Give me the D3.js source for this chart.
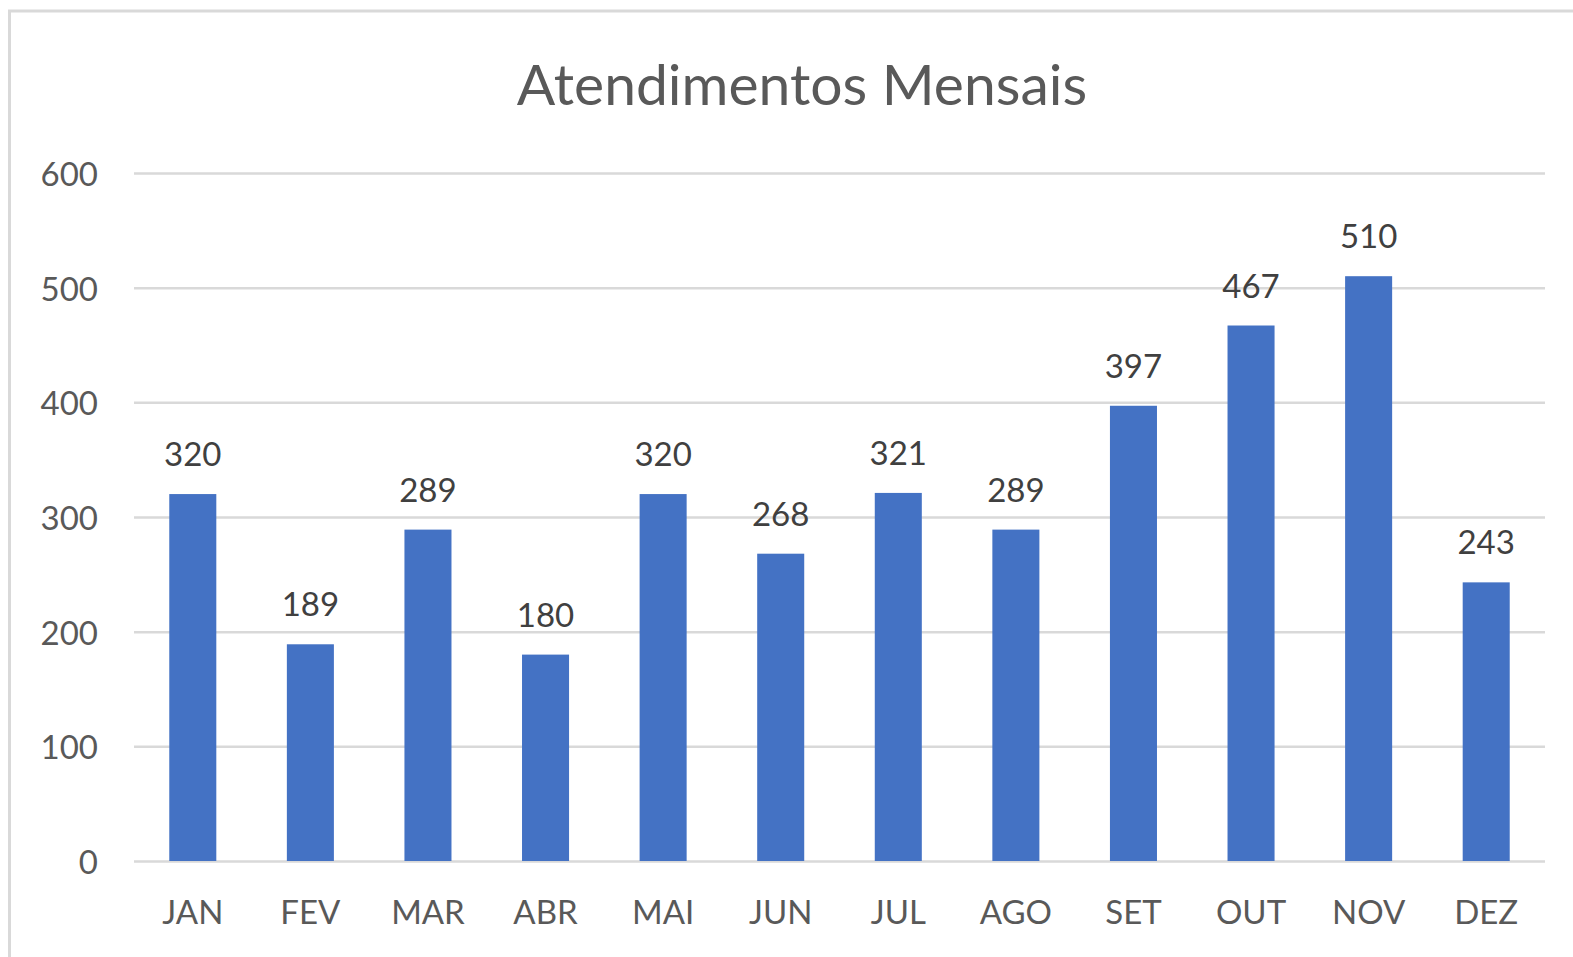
<!DOCTYPE html>
<html>
<head>
<meta charset="utf-8">
<script src="https://cdn.jsdelivr.net/npm/d3@7"></script>
<style>
  body { margin: 0; background: #fff; }
  svg { display: block; font-family: Lato, "Noto Sans", sans-serif; }
</style>
</head>
<body>
<svg id="chart" width="1573" height="957"></svg>
<script>
const months = ["JAN", "FEV", "MAR", "ABR", "MAI", "JUN", "JUL", "AGO", "SET", "OUT", "NOV", "DEZ"];
const atendimentos = [320, 189, 289, 180, 320, 268, 321, 289, 397, 467, 510, 243];
const yTicks = [0, 100, 200, 300, 400, 500, 600];
const title = "Atendimentos Mensais";

const svg = d3.select("#chart");

/* chart frame */
svg.append("rect")
    .attr("x", 9.5).attr("y", 11)
    .attr("width", 1700).attr("height", 1100)
    .attr("fill", "none")
    .attr("stroke", "#d9d9d9")
    .attr("stroke-width", 3);

/* scales */
let xScale = d3.scaleBand()
    .domain(months)
    .range([134, 1545])
    .paddingInner(0.6)
    .paddingOuter(0.3);

let yScale = d3.scaleLinear()
    .domain([0, 600])
    .range([861, 173]);

/* gridlines */
let yAxis = svg.append("g")
    .attr("transform", "translate(134,0)")
    .call(d3.axisLeft(yScale).tickValues(yTicks).tickSize(-(1545 - 134)).tickPadding(36));
yAxis.select(".domain").remove();
yAxis.selectAll(".tick line")
    .attr("stroke", "#d9d9d9")
    .attr("stroke-width", 2.5);
yAxis.selectAll(".tick text")
    .attr("fill", "#595959")
    .attr("y", 2)
    .style("font-size", "33px")
    .style("font-family", "Lato, sans-serif");

/* x axis labels */
let xAxis = svg.append("g")
    .attr("transform", "translate(0,861)")
    .call(d3.axisBottom(xScale).tickSize(0).tickPadding(40));
xAxis.select(".domain").remove();
xAxis.selectAll(".tick text")
    .attr("fill", "#595959")
    .style("font-size", "33px")
    .style("font-family", "Lato, sans-serif");

/* bars */
svg.append("g").selectAll("rect")
    .data(atendimentos)
    .join("rect")
    .attr("x", (d, i) => xScale(months[i]))
    .attr("y", d => yScale(d))
    .attr("width", xScale.bandwidth())
    .attr("height", d => yScale(0) - yScale(d))
    .attr("fill", "#4472c4");

/* data labels */
svg.append("g").selectAll("text")
    .data(atendimentos)
    .join("text")
    .attr("x", (d, i) => xScale(months[i]) + xScale.bandwidth() / 2)
    .attr("y", d => yScale(d) - 28)
    .attr("text-anchor", "middle")
    .attr("fill", "#404040")
    .style("font-size", "33px")
    .text(d => d);

/* title */
svg.append("text")
    .attr("x", 802)
    .attr("y", 105)
    .attr("text-anchor", "middle")
    .attr("fill", "#595959")
    .style("font-size", "57px")
    .text(title);
</script>
</body>
</html>
